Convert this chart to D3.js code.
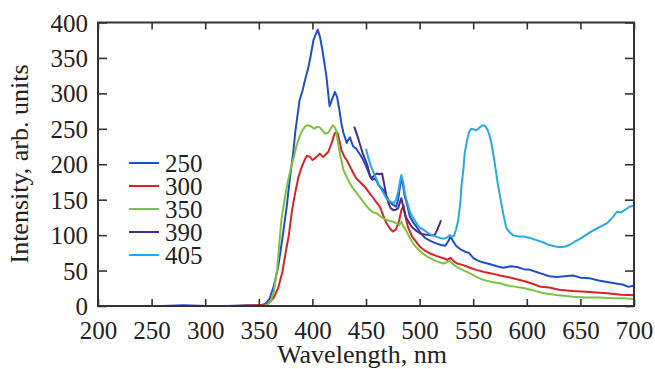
<!DOCTYPE html>
<html>
<head>
<meta charset="utf-8">
<script src="https://cdn.jsdelivr.net/npm/d3@7"></script>
<style>
  body { margin: 0; background: #fff; }
  svg text { font-family: "Liberation Serif", "DejaVu Serif", serif; fill: #222; }
</style>
</head>
<body>
<svg id="chart" width="655" height="369"></svg>
<script>
// wavelength (nm), intensity (arb. units) per excitation wavelength
const s250 = [[260,0],[280,1],[300,0],[320,0],[340,1],[352,1],[356,3],[360,10],[364,28],[368,55],[372,95],[376,140],[379,180],[382,215],[384,245],[386,268],[388,290],[391,305],[393,318],[396,335],[398,350],[401,375],[403,383],[405,390],[407,380],[409,364],[411,345],[413,325],[416,282],[418,290],[421,302],[423,295],[425,278],[427,258],[429,244],[432,230],[434,236],[435,238],[438,225],[441,222],[443,217],[446,210],[449,201],[452,190],[454,182],[456,178],[458,180],[460,176],[462,170],[466,164],[469,155],[472,147],[475,143],[478,140],[480,150],[482,172],[483,182],[484,175],[486,156],[488,145],[491,126],[494,118],[497,112],[501,103],[505,96],[510,92],[516,88],[520,86],[524,85],[527,92],[529,98],[531,92],[534,85],[538,80],[542,77],[546,75],[550,68],[553,65],[558,62],[566,59],[572,56],[578,54],[585,56],[591,55],[597,52],[603,51],[609,48],[615,45],[621,42],[628,41],[635,42],[643,43],[650,40],[659,39],[667,36],[675,34],[682,32],[690,30],[695,27],[700,29]];
const s300 = [[305,0],[330,0],[345,1],[352,1],[356,2],[360,5],[364,12],[368,25],[372,48],[375,75],[378,100],[381,135],[384,160],[387,182],[390,196],[393,207],[395,212],[398,210],[400,206],[402,208],[405,212],[407,215],[410,210],[412,213],[415,218],[418,230],[420,240],[421,244],[423,245],[424,241],[426,228],[427,220],[430,210],[432,206],[435,197],[438,188],[441,180],[445,174],[449,168],[453,160],[457,152],[460,146],[463,140],[466,128],[469,117],[472,110],[475,105],[478,108],[481,121],[483,135],[485,142],[487,125],[489,112],[493,98],[497,90],[500,84],[505,78],[510,74],[515,71],[519,69],[523,67],[526,65],[529,68],[532,63],[535,60],[540,58],[547,54],[553,51],[560,48],[567,46],[575,43],[582,41],[590,38],[598,35],[606,31],[613,27],[621,26],[630,23],[643,21],[655,20],[665,19],[675,18],[688,16],[700,15]];
const s350 = [[355,0],[358,2],[361,6],[364,20],[367,50],[369,85],[371,120],[374,150],[377,175],[380,195],[383,212],[385,225],[388,239],[390,246],[393,253],[395,255],[398,254],[400,252],[402,250],[404,253],[407,252],[409,248],[412,243],[415,245],[417,250],[419,255],[421,252],[422,248],[424,230],[426,212],[427,206],[429,192],[432,182],[435,173],[438,166],[441,160],[444,154],[447,148],[450,142],[454,135],[457,132],[460,131],[463,127],[466,124],[470,121],[475,119],[479,116],[481,114],[483,119],[485,112],[488,105],[491,96],[494,88],[498,81],[503,74],[508,69],[513,65],[518,62],[522,60],[526,62],[528,64],[531,59],[535,55],[540,51],[547,46],[553,41],[559,37],[567,34],[575,32],[582,29],[590,27],[598,25],[606,22],[613,19],[621,17],[630,15],[643,13],[655,12],[668,12],[680,11],[690,11],[700,10]];
const s390 = [[439,253],[442,240],[444,230],[447,215],[451,200],[453,188],[455,180],[457,183],[460,187],[462,186],[465,187],[467,172],[469,155],[471,145],[473,138],[476,135],[478,136],[480,138],[482,148],[483,152],[485,138],[487,126],[490,118],[493,111],[497,106],[501,102],[505,101],[510,100],[514,100],[516,106],[518,113],[520,121]];
const s405 = [[450,222],[452,210],[454,200],[456,192],[458,185],[461,175],[463,168],[466,160],[469,152],[472,148],[476,145],[478,150],[480,161],[482,178],[483,185],[485,172],[486,161],[488,148],[491,133],[494,124],[497,117],[500,111],[504,107],[508,103],[511,100],[515,98],[519,96],[523,95],[526,97],[528,100],[530,98],[532,99],[534,108],[536,121],[538,145],[539,168],[541,195],[542,215],[544,232],[546,245],[548,250],[551,249],[553,248],[556,252],[559,255],[561,254],[563,250],[565,242],[567,230],[569,212],[571,192],[573,172],[575,155],[577,138],[579,123],[581,110],[584,104],[587,100],[592,98],[597,98],[603,96],[609,93],[615,90],[621,86],[627,84],[631,83],[636,84],[641,87],[645,91],[650,95],[655,100],[660,105],[665,109],[670,113],[675,117],[680,125],[684,133],[688,132],[692,136],[696,140],[700,142]];

const seriesNames = ['250', '300', '350', '390', '405'];
const seriesData = [s250, s300, s350, s390, s405];
const seriesColors = ['#1f4fc6', '#d42525', '#7dc242', '#4b2b8c', '#2aa9df'];

const xTicks = [200, 250, 300, 350, 400, 450, 500, 550, 600, 650, 700];
const yTicks = [0, 50, 100, 150, 200, 250, 300, 350, 400];

const margin = { top: 22.5, right: 21, bottom: 63, left: 98 };
const width = 655 - margin.left - margin.right;
const height = 369 - margin.top - margin.bottom;

const svg = d3.select('#chart');
const g = svg.append('g').attr('transform', `translate(${margin.left},${margin.top})`);

const x = d3.scaleLinear().domain([200, 700]).range([0, width]);
const y = d3.scaleLinear().domain([0, 400]).range([height, 0]);

// spectra
const line = d3.line().x(d => x(d[0])).y(d => y(d[1]));
g.append('g')
  .selectAll('path')
  .data(seriesData)
  .join('path')
  .attr('d', line)
  .attr('fill', 'none')
  .attr('stroke', (d, i) => seriesColors[i])
  .attr('stroke-width', 2)
  .attr('stroke-linejoin', 'round');

// frame with inward ticks on all four sides
const tickStyle = sel => {
  sel.select('.domain').remove();
  sel.selectAll('.tick line').attr('stroke', '#333').attr('stroke-width', 1.6);
};
g.append('g').attr('transform', `translate(0,${height})`)
  .call(d3.axisBottom(x).tickValues(xTicks).tickSizeInner(-7).tickSizeOuter(0).tickPadding(15))
  .call(tickStyle)
  .call(a => a.selectAll('text').attr('font-size', 25).attr('font-family', '"Liberation Serif", serif').attr('fill', '#222'));
g.append('g')
  .call(d3.axisTop(x).tickValues(xTicks).tickSizeInner(-7).tickSizeOuter(0).tickFormat(''))
  .call(tickStyle);
g.append('g')
  .call(d3.axisLeft(y).tickValues(yTicks).tickSizeInner(-9).tickSizeOuter(0).tickPadding(10))
  .call(tickStyle)
  .call(a => a.selectAll('text').attr('font-size', 25).attr('font-family', '"Liberation Serif", serif').attr('fill', '#222').attr('dy', '0.34em'));
g.append('g').attr('transform', `translate(${width},0)`)
  .call(d3.axisRight(y).tickValues(yTicks).tickSizeInner(-9).tickSizeOuter(0).tickFormat(''))
  .call(tickStyle);

g.append('rect')
  .attr('width', width).attr('height', height)
  .attr('fill', 'none').attr('stroke', '#333').attr('stroke-width', 2);

// axis titles
svg.append('text')
  .attr('x', 362).attr('y', 363)
  .attr('text-anchor', 'middle')
  .attr('font-size', 26)
  .text('Wavelength, nm');
svg.append('text')
  .attr('transform', 'translate(28,164) rotate(-90)')
  .attr('text-anchor', 'middle')
  .attr('font-size', 26)
  .text('Intensity, arb. units');

// legend
const legend = svg.append('g')
  .selectAll('g')
  .data(seriesNames)
  .join('g')
  .attr('transform', (d, i) => `translate(129,${163 + i * 23})`);
legend.append('line')
  .attr('x1', 0).attr('x2', 30)
  .attr('stroke', (d, i) => seriesColors[i])
  .attr('stroke-width', 2);
legend.append('text')
  .attr('x', 36).attr('y', 8.5)
  .attr('font-size', 25)
  .text(d => d);
</script>
</body>
</html>
